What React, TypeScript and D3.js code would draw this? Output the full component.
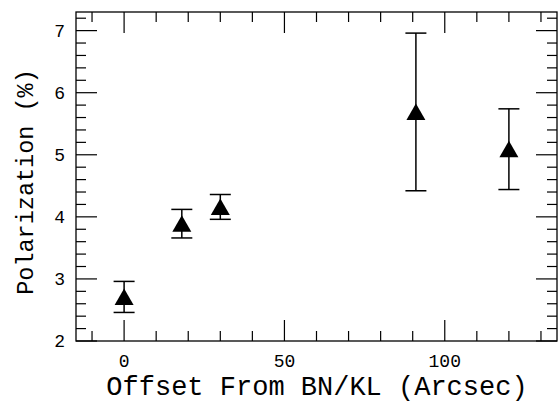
import React, { useEffect, useRef } from "react";
import * as d3 from "d3";

const offsets = [0, 18, 30, 91, 120];
const polarization = [2.71, 3.89, 4.16, 5.69, 5.09];
const errors = [0.25, 0.23, 0.2, 1.27, 0.65];

const xMajorTicks = [0, 50, 100];
const yMajorTicks = [2, 3, 4, 5, 6, 7];

const App = () => {
  const chart = useRef<SVGSVGElement>(null);

  useEffect(() => {
    const width = 558;
    const height = 410;
    const margin = { top: 12, right: 1, bottom: 69, left: 76 };
    const w = width - margin.left - margin.right;
    const h = height - margin.top - margin.bottom;

    const x = d3.scaleLinear().domain([-15, 135]).range([0, w]);
    const y = d3.scaleLinear().domain([2, 7.3]).range([h, 0]);

    const svg = d3.select(chart.current);
    svg.selectAll("*").remove();
    svg.attr("width", width).attr("height", height);

    const g = svg
      .append("g")
      .attr("transform", `translate(${margin.left}, ${margin.top})`);

    const font = "'Liberation Mono', monospace";
    const major = 21;
    const minor = 10;

    // ticks, all pointing inward, mirrored on all four sides
    const xMinor = d3.range(-10, 131, 10).filter((v) => !xMajorTicks.includes(v));
    const yMinor = d3
      .range(2.2, 7.3, 0.2)
      .map((v) => Math.round(v * 10) / 10)
      .filter((v) => !yMajorTicks.includes(v));

    const ticks = g.append("g").attr("stroke", "#000").attr("stroke-width", 1.2);

    const xTicks = [
      ...xMajorTicks.map((v) => ({ v, len: major })),
      ...xMinor.map((v) => ({ v, len: minor })),
    ];
    const yTicks = [
      ...yMajorTicks.map((v) => ({ v, len: major })),
      ...yMinor.map((v) => ({ v, len: minor })),
    ];

    xTicks.forEach((t) => {
      ticks.append("line").attr("x1", x(t.v)).attr("x2", x(t.v)).attr("y1", h).attr("y2", h - t.len);
      ticks.append("line").attr("x1", x(t.v)).attr("x2", x(t.v)).attr("y1", 0).attr("y2", t.len);
    });
    yTicks.forEach((t) => {
      ticks.append("line").attr("x1", 0).attr("x2", t.len).attr("y1", y(t.v)).attr("y2", y(t.v));
      ticks.append("line").attr("x1", w).attr("x2", w - t.len).attr("y1", y(t.v)).attr("y2", y(t.v));
    });

    // frame
    g.append("rect")
      .attr("width", w)
      .attr("height", h)
      .attr("fill", "none")
      .attr("stroke", "#000")
      .attr("stroke-width", 1.3);

    // tick labels
    g.append("g")
      .selectAll("text")
      .data(xMajorTicks)
      .join("text")
      .attr("x", (d) => x(d))
      .attr("y", h + 26)
      .attr("text-anchor", "middle")
      .attr("font-family", font)
      .attr("font-size", 18)
      .text((d) => d);

    g.append("g")
      .selectAll("text")
      .data(yMajorTicks)
      .join("text")
      .attr("x", -11)
      .attr("y", (d) => y(d))
      .attr("dy", "0.35em")
      .attr("text-anchor", "end")
      .attr("font-family", font)
      .attr("font-size", 18)
      .text((d) => d);

    // axis titles
    svg
      .append("text")
      .attr("x", 317)
      .attr("y", 395)
      .attr("text-anchor", "middle")
      .attr("font-family", font)
      .attr("font-size", 27)
      .text("Offset From BN/KL (Arcsec)");

    svg
      .append("text")
      .attr("transform", `translate(33, 182) rotate(-90)`)
      .attr("text-anchor", "middle")
      .attr("font-family", font)
      .attr("font-size", 23.5)
      .text("Polarization (%)");

    // error bars and triangles
    const data = offsets.map((o, i) => ({ x: o, y: polarization[i], e: errors[i] }));
    const cap = 10.5;
    const points = g.append("g").attr("stroke", "#000").attr("stroke-width", 1.5);

    data.forEach((d) => {
      const cx = x(d.x);
      points.append("line").attr("x1", cx).attr("x2", cx).attr("y1", y(d.y - d.e)).attr("y2", y(d.y + d.e));
      points.append("line").attr("x1", cx - cap).attr("x2", cx + cap).attr("y1", y(d.y + d.e)).attr("y2", y(d.y + d.e));
      points.append("line").attr("x1", cx - cap).attr("x2", cx + cap).attr("y1", y(d.y - d.e)).attr("y2", y(d.y - d.e));
    });

    g.append("g")
      .selectAll("path")
      .data(data)
      .join("path")
      .attr("d", (d) => {
        const cx = x(d.x);
        const cy = y(d.y);
        return `M${cx},${cy - 8.5}L${cx + 9.5},${cy + 8}L${cx - 9.5},${cy + 8}Z`;
      })
      .attr("fill", "#000");
  }, []);

  return (
    <div style={{ position: "absolute", left: 0, top: 0 }}>
      <svg ref={chart}></svg>
    </div>
  );
};

export default App;
